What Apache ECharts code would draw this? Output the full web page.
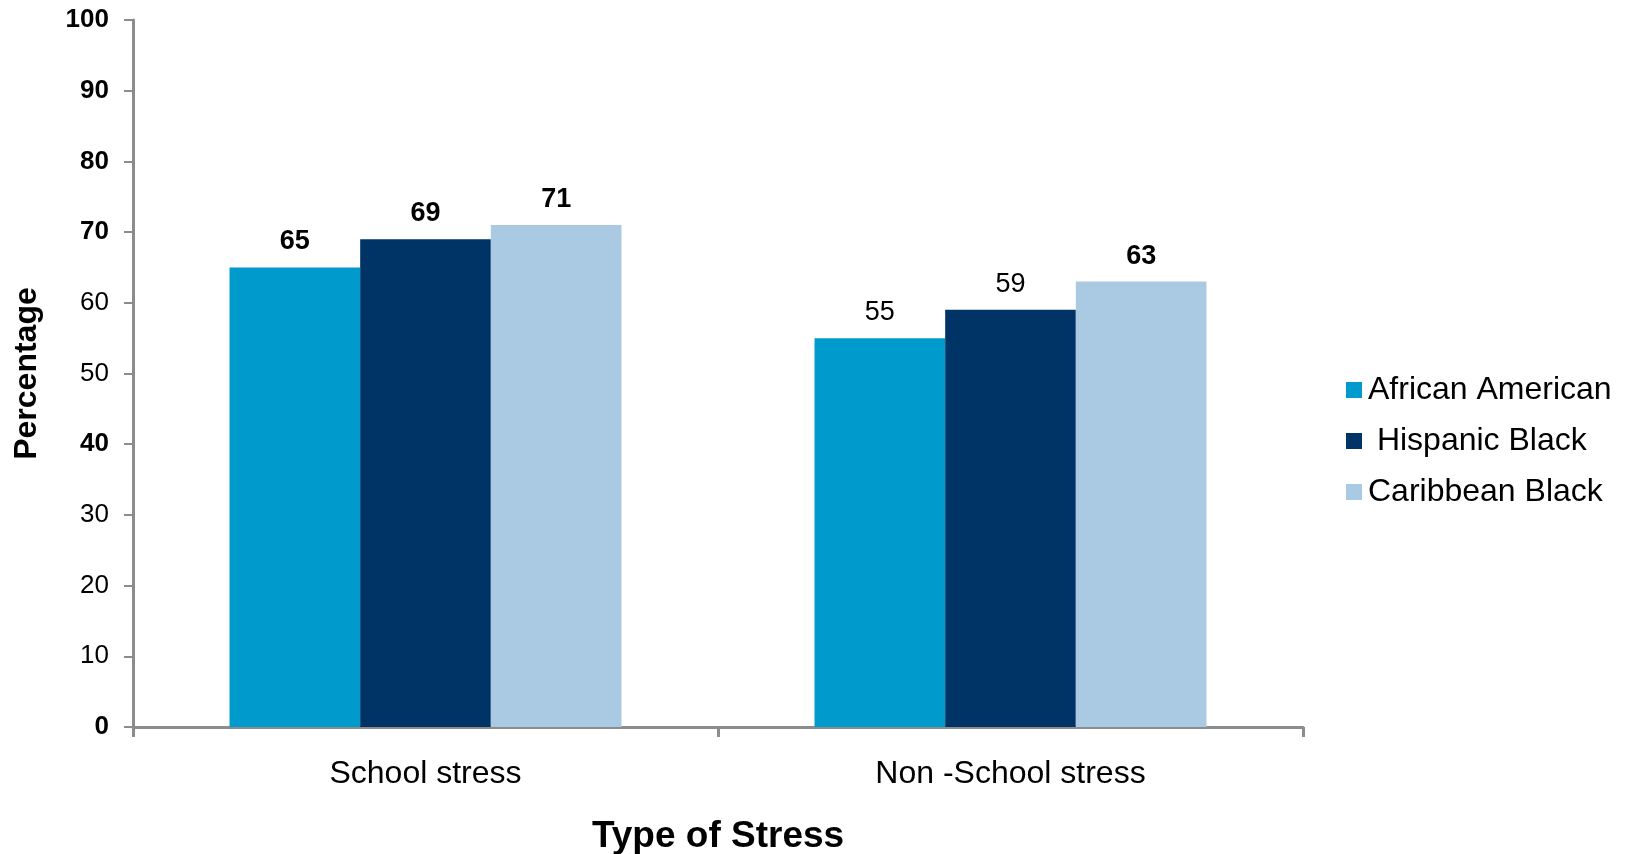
<!DOCTYPE html>
<html>
<head>
<meta charset="utf-8">
<script src="https://cdn.jsdelivr.net/npm/echarts@6/dist/echarts.min.js"></script>
<style>
html,body{margin:0;padding:0;background:#fff;}
#chart{width:1628px;height:854px;}
</style>
</head>
<body>
<div id="chart"></div>
<script>
const categories = ['School stress', 'Non -School stress'];
const seriesNames = ['African American', ' Hispanic Black', 'Caribbean Black'];
const africanAmerican = [65, 55];
const hispanicBlack = [69, 59];
const caribbeanBlack = [71, 63];
const yTicks = [0, 10, 20, 30, 40, 50, 60, 70, 80, 90, 100];

const colors = ['#009BCC', '#003366', '#A9CAE2'];
const boldTicks = {100: 1, 90: 1, 80: 1, 70: 1, 40: 1, 0: 1};
const boldLabels = [[true, false], [true, false], [true, true]];

const font = 'Liberation Sans, Arial, sans-serif';
const seriesData = [africanAmerican, hispanicBlack, caribbeanBlack];

const chart = echarts.init(document.getElementById('chart'));
chart.setOption({
  animation: false,
  backgroundColor: '#fff',
  color: colors,
  grid: {left: 133, right: 325, top: 20, bottom: 127, containLabel: false, outerBoundsMode: 'none'},
  legend: {
    orient: 'vertical',
    left: 1341,
    top: 369,
    itemWidth: 16,
    itemHeight: 16,
    itemGap: 19,
    icon: 'rect',
    textStyle: {fontFamily: font, fontSize: 32, color: '#000', lineHeight: 31, padding: [0, 0, 0, 1]},
    data: seriesNames
  },
  xAxis: {
    type: 'category',
    data: categories,
    name: 'Type of Stress',
    nameLocation: 'middle',
    nameGap: 91,
    nameTextStyle: {fontFamily: font, fontSize: 37, fontWeight: 'bold', color: '#000'},
    axisLine: {lineStyle: {color: '#8c8c8c', width: 3}},
    axisTick: {show: true, length: 10, lineStyle: {color: '#8c8c8c', width: 3}},
    axisLabel: {fontFamily: font, fontSize: 32, color: '#000', margin: 31},
    splitLine: {show: false}
  },
  yAxis: {
    type: 'value',
    min: 0,
    max: 100,
    interval: 10,
    name: 'Percentage',
    nameLocation: 'middle',
    nameRotate: 90,
    nameGap: 90,
    nameTextStyle: {fontFamily: font, fontSize: 32, fontWeight: 'bold', color: '#000'},
    axisLine: {show: true, lineStyle: {color: '#8c8c8c', width: 3}},
    axisTick: {show: true, length: 9, lineStyle: {color: '#8c8c8c', width: 2}},
    splitLine: {show: false},
    axisLabel: {
      margin: 24,
      fontFamily: font, fontSize: 26, color: '#000',
      formatter: function (v) {
        if (yTicks.indexOf(v) < 0) return '';
        return boldTicks[v] ? '{b|' + v + '}' : '{n|' + v + '}';
      },
      rich: {
        b: {fontFamily: font, fontSize: 26, fontWeight: 'bold', color: '#000'},
        n: {fontFamily: font, fontSize: 26, color: '#000'}
      }
    }
  },
  series: seriesNames.map(function (name, i) {
    return {
      name: name,
      type: 'bar',
      barGap: '0%',
      barCategoryGap: '33%',
      data: seriesData[i].map(function (v, j) {
        return {
          value: v,
          label: {fontWeight: boldLabels[i][j] ? 'bold' : 'normal'}
        };
      }),
      label: {
        show: true,
        position: 'top',
        distance: 12,
        fontFamily: font,
        fontSize: 27,
        color: '#000'
      }
    };
  })
});
</script>
</body>
</html>
